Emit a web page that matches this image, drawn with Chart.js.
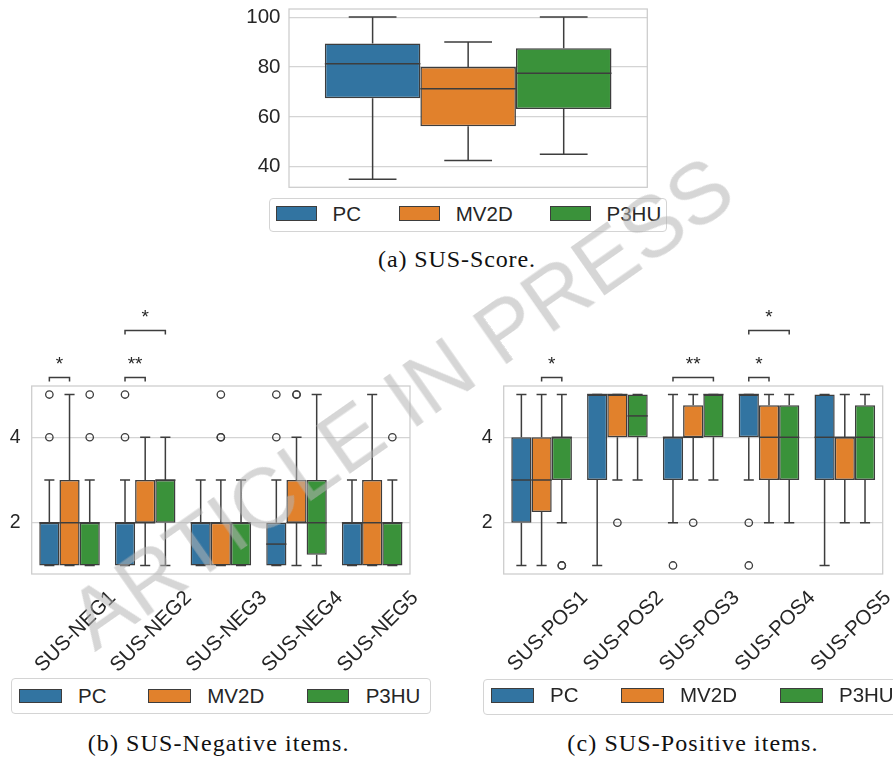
<!DOCTYPE html>
<html><head><meta charset="utf-8">
<script src="https://cdn.jsdelivr.net/npm/chart.js@4.4.1/dist/chart.umd.min.js"></script>
<style>
html,body{margin:0;padding:0;background:#fff;}
body{width:893px;height:758px;position:relative;overflow:hidden;font-family:'Liberation Sans',Arial,sans-serif;}
canvas{position:absolute;}
.legend{position:absolute;border:1px solid #d4d4d4;border-radius:4px;box-sizing:border-box;background:#fff;}
.legend .sw{position:absolute;border:1.5px solid #3d3d3d;box-sizing:border-box;}
.legend .lt{position:absolute;color:#262626;line-height:1;white-space:nowrap;transform:translateY(-50%);}
.cap{position:absolute;font-family:'Liberation Serif','Times New Roman',serif;color:#111;white-space:nowrap;line-height:1;transform:translateX(-50%);}
.wm{position:absolute;white-space:nowrap;pointer-events:none;z-index:10;line-height:1;
    font-family:'Liberation Sans',Arial,sans-serif;color:rgba(180,180,180,0.55);transform:translate(-50%,-50%) rotate(-35deg);}
</style>
</head><body>
<canvas id="cA" width="430" height="200" style="left:230px;top:0px"></canvas>
<canvas id="cB" width="440" height="385" style="left:0px;top:295px"></canvas>
<canvas id="cC" width="433" height="385" style="left:460px;top:295px"></canvas>
<div id="legA" class="legend"></div>
<div id="legB" class="legend"></div>
<div id="legC" class="legend"></div>
<div class="cap" id="capA">(a) SUS-Score.</div>
<div class="cap" id="capB">(b) SUS-Negative items.</div>
<div class="cap" id="capC">(c) SUS-Positive items.</div>
<div class="wm" id="wm">ARTICLE IN PRESS</div>
<script>
// ---------- data ----------
const groups = ['PC', 'MV2D', 'P3HU'];
const groupColors = ['#3274a1', '#e1812c', '#3a923a'];

// each entry: [lower whisker, Q1, median, Q3, upper whisker]
const scoreCats = ['SUS-Score'];
const scorePC   = [[35, 67.5, 81.25, 89.4, 100]];
const scoreMV2D = [[42.5, 56.25, 71.25, 80, 90]];
const scoreP3HU = [[45, 63.1, 77.5, 87.5, 100]];
const scoreOutPC = [[]], scoreOutMV2D = [[]], scoreOutP3HU = [[]];
const scoreTicks = [40, 60, 80, 100];
const scoreRange = [31.75, 103.25];

const negCats = ['SUS-NEG1', 'SUS-NEG2', 'SUS-NEG3', 'SUS-NEG4', 'SUS-NEG5'];
const negPC   = [[1,1,2,2,3],[1,1,2,2,3],[1,1,2,2,3],[1,1,1.5,2,3],[1,1,2,2,3]];
const negMV2D = [[1,1,2,3,5],[1,2,2,3,4],[1,1,2,2,3],[1,2,2,3,4],[1,1,2,3,5]];
const negP3HU = [[1,1,2,2,3],[1,2,3,3,4],[1,1,2,2,3],[1,1.25,2,3,5],[1,1,2,2,3]];
const negOutPC   = [[4,5],[4,5],[],[4,5],[]];
const negOutMV2D = [[],[],[4,4,5],[5,5],[]];
const negOutP3HU = [[4,5],[],[],[],[4]];
// [category, from group, to group, level, label]
const negSig = [[0,0,1,0,'*'],[1,0,1,0,'**'],[1,0,2,1,'*']];

const posCats = ['SUS-POS1', 'SUS-POS2', 'SUS-POS3', 'SUS-POS4', 'SUS-POS5'];
const posPC   = [[1,2,3,4,5],[1,3,5,5,5],[2,3,4,4,5],[3,4,5,5,5],[1,3,4,5,5]];
const posMV2D = [[1,2.25,3,4,5],[3,4,5,5,5],[3,4,4,4.75,5],[2,3,4,4.75,5],[2,3,4,4,5]];
const posP3HU = [[2,3,4,4,5],[3,4,4.5,5,5],[3,4,5,5,5],[2,3,4,4.75,5],[2,3,4,4.75,5]];
const posOutPC   = [[],[],[1],[2,1],[]];
const posOutMV2D = [[],[2],[2],[],[]];
const posOutP3HU = [[1,1],[],[],[],[]];
const posSig = [[0,1,2,0,'*'],[2,0,2,0,'**'],[3,0,1,0,'*'],[3,0,2,1,'*']];

const itemTicks = [2, 4];
const itemRange = [0.8, 5.2];
const sigLevels = [5.4, 6.5];

// ---------- drawing helpers ----------
const EDGE = '#3d3d3d';
Chart.defaults.font.family = "'Liberation Sans', Arial, sans-serif";
Chart.defaults.color = '#262626';

const boxPlugin = {
  id: 'boxes',
  beforeDatasetsDraw(chart, args, opts) {
    const ctx = chart.ctx, y = chart.scales.y;
    ctx.save();
    ctx.strokeStyle = EDGE; ctx.lineWidth = 1.5;
    opts.stats.forEach((arr, d) => {
      const meta = chart.getDatasetMeta(d);
      arr.forEach((s, i) => {
        const bar = meta.data[i]; const x = bar.x, w = bar.width;
        ctx.beginPath();
        ctx.moveTo(x, y.getPixelForValue(s[3])); ctx.lineTo(x, y.getPixelForValue(s[4]));
        ctx.moveTo(x, y.getPixelForValue(s[1])); ctx.lineTo(x, y.getPixelForValue(s[0]));
        ctx.moveTo(x - w/4, y.getPixelForValue(s[4])); ctx.lineTo(x + w/4, y.getPixelForValue(s[4]));
        ctx.moveTo(x - w/4, y.getPixelForValue(s[0])); ctx.lineTo(x + w/4, y.getPixelForValue(s[0]));
        ctx.stroke();
      });
    });
    ctx.restore();
  },
  afterDatasetsDraw(chart, args, opts) {
    const ctx = chart.ctx, y = chart.scales.y;
    ctx.save();
    ctx.strokeStyle = EDGE; ctx.lineWidth = 1.5;
    opts.stats.forEach((arr, d) => {
      const meta = chart.getDatasetMeta(d);
      arr.forEach((s, i) => {
        const bar = meta.data[i]; const x = bar.x, w = bar.width;
        const py = y.getPixelForValue(s[2]);
        ctx.beginPath(); ctx.moveTo(x - w/2, py); ctx.lineTo(x + w/2, py); ctx.stroke();
      });
    });
    ctx.lineWidth = 1.3;
    opts.outliers.forEach((arr, d) => {
      const meta = chart.getDatasetMeta(d);
      arr.forEach((vals, i) => {
        const x = meta.data[i].x;
        vals.forEach(v => {
          ctx.beginPath(); ctx.arc(x, y.getPixelForValue(v), 3.7, 0, Math.PI*2); ctx.stroke();
        });
      });
    });
    ctx.restore();
  },
  afterDraw(chart, args, opts) {
    const ctx = chart.ctx, a = chart.chartArea, y = chart.scales.y;
    ctx.save();
    ctx.strokeStyle = '#cccccc'; ctx.lineWidth = 1.25;
    ctx.strokeRect(a.left, a.top, a.right - a.left, a.bottom - a.top);
    if (opts.sig) {
      ctx.strokeStyle = EDGE; ctx.lineWidth = 1.5; ctx.fillStyle = '#262626';
      ctx.font = "19px 'Liberation Sans', Arial, sans-serif";
      ctx.textAlign = 'center'; ctx.textBaseline = 'alphabetic';
      opts.sig.forEach(([c, g1, g2, lvl, lab]) => {
        const x1 = chart.getDatasetMeta(g1).data[c].x;
        const x2 = chart.getDatasetMeta(g2).data[c].x;
        const py = y.getPixelForValue(sigLevels[lvl]);
        ctx.beginPath();
        ctx.moveTo(x1, py + 4); ctx.lineTo(x1, py); ctx.lineTo(x2, py); ctx.lineTo(x2, py + 4);
        ctx.stroke();
        ctx.fillText(lab, (x1 + x2) / 2, py - 7);
      });
    }
    ctx.restore();
  }
};

function makeChart(id, cats, stats, outs, sig, range, ticks, cfg) {
  return new Chart(document.getElementById(id), {
    type: 'bar',
    data: {
      labels: cats,
      datasets: groups.map((g, d) => ({
        label: g,
        data: stats[d].map(s => [s[1], s[3]]),
        backgroundColor: groupColors[d],
        borderColor: EDGE, borderWidth: 1.5, borderSkipped: false,
        categoryPercentage: 0.8, barPercentage: 1.0
      }))
    },
    options: {
      responsive: false, animation: false, devicePixelRatio: 1,
      layout: { padding: cfg.padding },
      plugins: { legend: { display: false }, tooltip: { enabled: false },
        boxes: { stats: stats, outliers: outs, sig: sig } },
      scales: {
        x: {
          display: cfg.showX,
          grid: { display: false, drawTicks: false }, border: { display: false },
          ticks: { autoSkip: false, minRotation: 45, maxRotation: 45, padding: 12,
                   labelOffset: 43, font: { size: 20.5 }, color: '#262626' },
          afterFit: s => { s.height = cfg.xHeight; s.paddingLeft = 0; s.paddingRight = 0; }
        },
        y: {
          min: range[0], max: range[1],
          grid: { color: '#d4d4d4', lineWidth: 1.2, drawTicks: false }, border: { display: false },
          ticks: { padding: cfg.yPad, font: { size: cfg.yFont }, color: '#262626' },
          afterBuildTicks: s => { s.ticks = ticks.map(v => ({ value: v })); },
          afterFit: s => { s.width = cfg.yWidth; s.paddingTop = 0; s.paddingBottom = 0; }
        }
      }
    },
    plugins: [boxPlugin]
  });
}

makeChart('cA', scoreCats, [scorePC, scoreMV2D, scoreP3HU], [scoreOutPC, scoreOutMV2D, scoreOutP3HU], null,
  scoreRange, scoreTicks, { padding: { top: 9, right: 12.7, bottom: 12.7, left: 0 }, showX: false, xHeight: 0, yWidth: 59, yPad: 8.5, yFont: 20.5 });
makeChart('cB', negCats, [negPC, negMV2D, negP3HU], [negOutPC, negOutMV2D, negOutP3HU], negSig,
  itemRange, itemTicks, { padding: { top: 91, right: 30, bottom: 0, left: 0 }, showX: true, xHeight: 106, yWidth: 31.7, yPad: 11, yFont: 19.5 });
makeChart('cC', posCats, [posPC, posMV2D, posP3HU], [posOutPC, posOutMV2D, posOutP3HU], posSig,
  itemRange, itemTicks, { padding: { top: 91, right: 10.3, bottom: 0, left: 0 }, showX: true, xHeight: 106, yWidth: 43.7, yPad: 11, yFont: 19.5 });

// ---------- legends (HTML) ----------
function buildLegend(id, box, swX, swW, swH, swTop, textDx, fs) {
  const el = document.getElementById(id);
  Object.assign(el.style, { left: box[0] + 'px', top: box[1] + 'px', width: box[2] + 'px', height: box[3] + 'px' });
  groups.forEach((g, i) => {
    const sw = document.createElement('div'); sw.className = 'sw';
    Object.assign(sw.style, { left: swX[i] + 'px', top: swTop + 'px', width: swW + 'px', height: swH + 'px', background: groupColors[i] });
    el.appendChild(sw);
    const t = document.createElement('div'); t.className = 'lt'; t.textContent = g;
    Object.assign(t.style, { left: (swX[i] + textDx) + 'px', top: (swTop + swH / 2) + 'px', fontSize: fs + 'px' });
    el.appendChild(t);
  });
}
buildLegend('legA', [269, 197.5, 398, 34.5], [6, 129.3, 280], 41, 15, 7.5, 56.5, 20.5);
buildLegend('legB', [11, 678.3, 420, 36], [7, 136.3, 294.7], 42.7, 14, 9.5, 59, 20.5);
buildLegend('legC', [483.3, 679, 420, 35.5], [6.7, 136.7, 295.7], 42.7, 15, 7.8, 59, 20.5);

// ---------- captions & watermark ----------
function place(id, cx, top, fs, ls) {
  const e = document.getElementById(id);
  Object.assign(e.style, { left: cx + 'px', top: top + 'px', fontSize: fs + 'px', letterSpacing: ls + 'px' });
}
place('capA', 457, 247, 24, 0.9);
place('capB', 218.7, 731, 24, 1.1);
place('capC', 693, 731, 24, 1.1);
const wm = document.getElementById('wm');
Object.assign(wm.style, { left: '400px', top: '402px', fontSize: '86px' });
</script>
</body></html>
